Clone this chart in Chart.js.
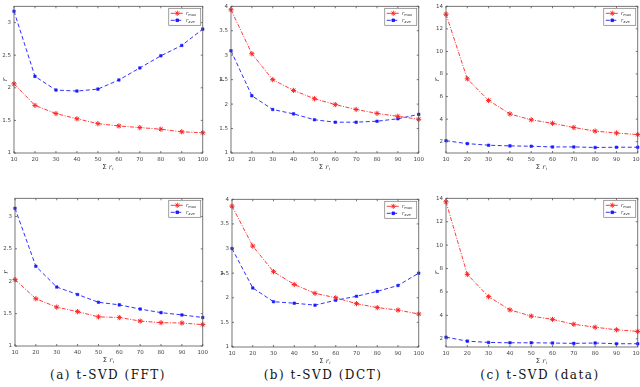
<!DOCTYPE html>
<html>
<head>
<meta charset="utf-8">
<script src="https://cdn.jsdelivr.net/npm/chart.js@4.4.0/dist/chart.umd.min.js"></script>
<style>
  body { margin: 0; background: #fff; width: 640px; height: 387px; position: relative; overflow: hidden; }
  canvas { position: absolute; }
  .cap { position: absolute; top: 368px; font-family: "DejaVu Serif", serif; font-size: 12px; letter-spacing: 1.5px;
         white-space: nowrap; transform: translateX(-50%); color: #111; }
</style>
</head>
<body>
<div class="cap" style="left:108px">(a) t-SVD (FFT)</div>
<div class="cap" style="left:323px">(b) t-SVD (DCT)</div>
<div class="cap" style="left:540px">(c) t-SVD (data)</div>

<script>
const rankSums = [10, 20, 30, 40, 50, 60, 70, 80, 90, 100];

// top row
const fftTopMax  = [2.06, 1.73, 1.605, 1.525, 1.45, 1.415, 1.39, 1.365, 1.325, 1.31];
const fftTopAve  = [3.175, 2.175, 1.965, 1.95, 1.98, 2.12, 2.305, 2.49, 2.65, 2.9];
const dctTopMax  = [3.93, 3.03, 2.5, 2.28, 2.11, 1.99, 1.89, 1.81, 1.75, 1.69];
const dctTopAve  = [3.09, 2.17, 1.89, 1.8, 1.68, 1.63, 1.63, 1.65, 1.7, 1.79];
const dataTopMax = [13.3, 7.57, 5.66, 4.46, 3.94, 3.63, 3.26, 2.94, 2.77, 2.63];
const dataTopAve = [2.09, 1.83, 1.69, 1.63, 1.6, 1.54, 1.54, 1.49, 1.51, 1.51];

// bottom row
const fftBotMax  = [2.025, 1.73, 1.6, 1.53, 1.45, 1.44, 1.385, 1.36, 1.355, 1.33];
const fftBotAve  = [3.125, 2.23, 1.91, 1.795, 1.675, 1.635, 1.57, 1.515, 1.48, 1.44];
const dctBotMax  = [3.86, 3.05, 2.53, 2.27, 2.09, 2.0, 1.88, 1.8, 1.75, 1.67];
const dctBotAve  = [3.0, 2.2, 1.92, 1.89, 1.85, 1.95, 2.03, 2.13, 2.25, 2.5];
const dataBotMax = [13.7, 7.5, 5.6, 4.47, 3.94, 3.66, 3.24, 2.99, 2.77, 2.63];
const dataBotAve = [2.14, 1.8, 1.69, 1.66, 1.66, 1.64, 1.61, 1.64, 1.58, 1.58];

const smallTicks = [1, 1.5, 2, 2.5, 3];
const midTicks = [1, 1.5, 2, 2.5, 3, 3.5, 4];
const bigTicks = [2, 4, 6, 8, 10, 12, 14];

const RED = '#ff2424';
const BLUE = '#1a1aff';

// plot-area boxes (l, t, r, b) and y limits for each panel
const panels = [
  { box: [14, 3, 203, 153],   yMin: 1, yMax: 3.25, yTicks: smallTicks, max: fftTopMax,  ave: fftTopAve },
  { box: [231, 3, 419, 153],  yMin: 1, yMax: 4,    yTicks: midTicks,   max: dctTopMax,  ave: dctTopAve },
  { box: [446, 3, 638, 153],  yMin: 1, yMax: 14,   yTicks: bigTicks,   max: dataTopMax, ave: dataTopAve },
  { box: [15, 195, 203, 346], yMin: 1, yMax: 3.28, yTicks: smallTicks, max: fftBotMax,  ave: fftBotAve },
  { box: [232, 196, 419, 347],yMin: 1, yMax: 4,    yTicks: midTicks,   max: dctBotMax,  ave: dctBotAve },
  { box: [446, 195, 638, 347],yMin: 1.3, yMax: 14, yTicks: bigTicks,   max: dataBotMax, ave: dataBotAve },
];

const PAD_L = 14, PAD_T = 3, PAD_R = 8, PAD_B = 22;

// matlab-like frame, inward ticks, legend and axis labels
const matlabFrame = {
  id: 'matlabFrame',
  afterDraw(chart) {
    const ctx = chart.ctx;
    const a = chart.chartArea;
    const xs = chart.scales.x, ys = chart.scales.y;
    ctx.save();
    ctx.strokeStyle = '#555';
    ctx.lineWidth = 0.8;
    ctx.strokeRect(a.left, a.top, a.right - a.left, a.bottom - a.top);
    ctx.beginPath();
    xs.ticks.forEach((t, i) => {
      const x = xs.getPixelForTick(i);
      ctx.moveTo(x, a.bottom); ctx.lineTo(x, a.bottom - 2);
      ctx.moveTo(x, a.top); ctx.lineTo(x, a.top + 2);
    });
    ys.ticks.forEach(t => {
      const y = ys.getPixelForValue(t.value);
      ctx.moveTo(a.left, y); ctx.lineTo(a.left + 2, y);
      ctx.moveTo(a.right, y); ctx.lineTo(a.right - 2, y);
    });
    ctx.stroke();

    // legend
    const w = 32, h = 17;
    const lx = a.right - w - 2, ly = a.top + 2;
    ctx.fillStyle = '#fff';
    ctx.fillRect(lx, ly, w, h);
    ctx.strokeStyle = '#777';
    ctx.lineWidth = 0.7;
    ctx.strokeRect(lx, ly, w, h);
    chart.data.datasets.forEach((ds, i) => {
      const y = ly + 5 + i * 7;
      ctx.strokeStyle = ds.borderColor;
      ctx.fillStyle = ds.borderColor;
      ctx.lineWidth = 0.9;
      ctx.setLineDash(ds.borderDash);
      ctx.beginPath(); ctx.moveTo(lx + 2, y); ctx.lineTo(lx + 15, y); ctx.stroke();
      ctx.setLineDash([]);
      Chart.helpers.drawPoint(ctx, {
        pointStyle: ds.pointStyle, radius: ds.pointRadius, borderWidth: 1
      }, lx + 8.5, y);
      ctx.fillStyle = '#333';
      ctx.font = 'italic 5px "DejaVu Serif"';
      ctx.textBaseline = 'middle';
      ctx.fillText('r', lx + 17, y);
      ctx.font = '3.6px "DejaVu Sans"';
      ctx.fillText(ds.label, lx + 19.5, y + 1.3);
    });

    // axis labels
    ctx.fillStyle = '#333';
    ctx.font = 'italic 7px "DejaVu Serif"';
    ctx.textAlign = 'center';
    ctx.textBaseline = 'middle';
    ctx.save();
    ctx.translate(a.left - 9, (a.top + a.bottom) / 2);
    ctx.rotate(-Math.PI / 2);
    ctx.fillText('r', 0, 0);
    ctx.restore();
    const cx = (a.left + a.right) / 2;
    ctx.font = '7px "DejaVu Sans"';
    ctx.fillText('\u03A3', cx - 4, a.bottom + 14);
    ctx.font = 'italic 6.5px "DejaVu Serif"';
    ctx.fillText('r', cx + 2, a.bottom + 14);
    ctx.font = 'italic 4px "DejaVu Serif"';
    ctx.fillText('i', cx + 4.5, a.bottom + 16);
    ctx.restore();
  }
};

panels.forEach(p => {
  const [l, t, r, b] = p.box;
  const cv = document.createElement('canvas');
  const W = r - l + PAD_L + PAD_R, H = b - t + PAD_T + PAD_B;
  cv.width = W; cv.height = H;
  cv.style.left = (l - PAD_L) + 'px';
  cv.style.top = (t - PAD_T) + 'px';
  cv.style.width = W + 'px';
  cv.style.height = H + 'px';
  document.body.appendChild(cv);

  new Chart(cv, {
    type: 'line',
    data: {
      labels: rankSums,
      datasets: [
        {
          label: 'max',
          data: p.max,
          borderColor: RED,
          backgroundColor: RED,
          borderWidth: 0.9,
          borderDash: [4, 1.5, 1, 1.5],
          pointStyle: 'star',
          pointRadius: 2.6,
          pointBorderWidth: 1,
          tension: 0,
        },
        {
          label: 'ave',
          data: p.ave,
          borderColor: BLUE,
          backgroundColor: BLUE,
          borderWidth: 0.9,
          borderDash: [4, 2.5],
          pointStyle: 'rect',
          pointRadius: 1.8,
          pointBorderWidth: 0.5,
          tension: 0,
        },
      ],
    },
    options: {
      responsive: false,
      animation: false,
      devicePixelRatio: 1,
      layout: { padding: { left: 0, top: PAD_T, right: PAD_R, bottom: 0 } },
      plugins: { legend: { display: false }, tooltip: { enabled: false } },
      scales: {
        x: {
          type: 'category',
          offset: false,
          grid: { display: false, drawTicks: false },
          border: { display: false },
          ticks: { color: '#444', font: { size: 5.5, family: 'DejaVu Sans' }, padding: 3, maxRotation: 0, autoSkip: false },
          afterFit: s => { s.height = PAD_B; },
        },
        y: {
          type: 'linear',
          min: p.yMin,
          max: p.yMax,
          grid: { display: false, drawTicks: false },
          border: { display: false },
          afterBuildTicks: s => { s.ticks = p.yTicks.map(v => ({ value: v })); },
          ticks: {
            color: '#444', font: { size: 5.5, family: 'DejaVu Sans' }, padding: 3,
            callback: v => String(v),
          },
          afterFit: s => { s.width = PAD_L; },
        },
      },
    },
    plugins: [matlabFrame],
  });
});
</script>
</body>
</html>
